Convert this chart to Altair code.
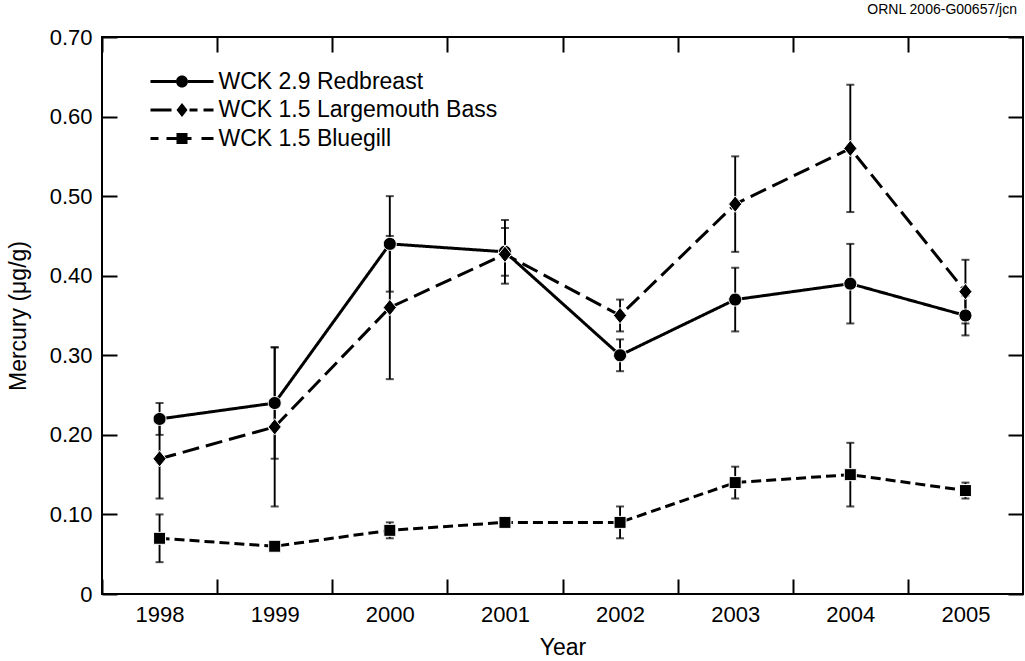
import altair as alt
import pandas as pd

# ---------------- data ----------------
years = [1998, 1999, 2000, 2001, 2002, 2003, 2004, 2005]
series_names = ["WCK 2.9 Redbreast", "WCK 1.5 Largemouth Bass", "WCK 1.5 Bluegill"]

redbreast = [0.22, 0.24, 0.44, 0.43, 0.30, 0.37, 0.39, 0.35]
redbreast_lo = [0.20, 0.17, 0.38, 0.40, 0.28, 0.33, 0.34, 0.325]
redbreast_hi = [0.24, 0.31, 0.50, 0.46, 0.32, 0.41, 0.44, 0.375]

bass = [0.17, 0.21, 0.36, 0.427, 0.35, 0.49, 0.56, 0.38]
bass_lo = [0.12, 0.11, 0.27, 0.39, 0.33, 0.43, 0.48, 0.34]
bass_hi = [0.22, 0.31, 0.45, 0.47, 0.37, 0.55, 0.64, 0.42]

bluegill = [0.07, 0.06, 0.08, 0.09, 0.09, 0.14, 0.15, 0.13]
bluegill_lo = [0.04, 0.055, 0.07, 0.086, 0.07, 0.12, 0.11, 0.12]
bluegill_hi = [0.10, 0.065, 0.09, 0.094, 0.11, 0.16, 0.19, 0.14]

y_ticks = [0.0, 0.1, 0.2, 0.3, 0.4, 0.5, 0.6, 0.7]
# x tick marks sit on the year boundaries; each label names the year to the right of its tick
x_boundaries = [1997.5, 1998.5, 1999.5, 2000.5, 2001.5, 2002.5, 2003.5, 2004.5]

rows = []
for name, vals, los, his in [
    (series_names[0], redbreast, redbreast_lo, redbreast_hi),
    (series_names[1], bass, bass_lo, bass_hi),
    (series_names[2], bluegill, bluegill_lo, bluegill_hi),
]:
    for yr, v, lo, hi in zip(years, vals, los, his):
        rows.append({"series": name, "year": yr, "value": v, "lo": lo, "hi": hi})
df = pd.DataFrame(rows)

# ---------------- styling ----------------
FONT = "Liberation Sans"
W, H = 921, 557
TICK = 15
dash_patterns = [[1, 0], [17, 7], [10, 5]]


# symbol paths; symbol size 256 -> 1 path unit = 8 px
def seg(x0, x1, u, h=1.5):
    a, b, c = x0 / u, x1 / u, h / u
    return f"M{a:.3f},{-c:.3f}L{b:.3f},{-c:.3f}L{b:.3f},{c:.3f}L{a:.3f},{c:.3f}Z"


def circ(r, u):
    r = r / u
    return f"M{r:.3f},0A{r:.3f},{r:.3f} 0 1 1 {-r:.3f},0A{r:.3f},{r:.3f} 0 1 1 {r:.3f},0Z"


def diam(hw, hh, u):
    a, b = hw / u, hh / u
    return f"M0,{-b:.3f}L{a:.3f},0L0,{b:.3f}L{-a:.3f},0Z"


def sq(h, u):
    a = h / u
    return f"M{-a:.3f},{-a:.3f}L{a:.3f},{-a:.3f}L{a:.3f},{a:.3f}L{-a:.3f},{a:.3f}Z"


U = 8.0
marker_shapes = [circ(6.5, U), diam(6.6, 8.2, U), sq(6.0, U)]
leg_red = " ".join([seg(-31.5, -6, U), circ(6, U), seg(6, 31.5, U)])
leg_bass = " ".join([seg(-31.5, -10.5, U), diam(5.5, 7, U), seg(7.5, 15.5, U), seg(21.5, 31.5, U)])
leg_blue = " ".join([seg(-31.5, -23.5, U), seg(-15.5, -5, U), sq(5.5, U), seg(5, 9.5, U),
                     seg(19.5, 31.5, U)])

xscale = alt.Scale(domain=[1997.5, 2005.5], nice=False, zero=False)
yscale = alt.Scale(domain=[0, 0.7], nice=False, zero=True)

# grid lines dashed so only a short piece shows at each end -> inward ticks on all four sides
axis_x = alt.Axis(
    values=x_boundaries, ticks=False, domain=False,
    labelExpr="format(datum.value + 0.5, 'd')", labelOffset=W / 16,
    labelFlush=False, labelOverlap=False, labelBound=False,
    labelFontSize=22, labelPadding=10, title="Year", titleFontSize=23,
    titleFontWeight="normal", titlePadding=11,
    grid=True, gridColor="black", gridWidth=2, gridOpacity=1,
    gridDash=[TICK, H - 2 * TICK, TICK],
)
axis_y = alt.Axis(
    values=y_ticks, ticks=False, domain=False,
    labelExpr="datum.value == 0 ? '0' : format(datum.value, '.2f')",
    labelFlush=False, labelOverlap=False,
    labelFontSize=22, labelPadding=10, title="Mercury (μg/g)",
    titleFontSize=23, titleFontWeight="normal", titlePadding=19,
    grid=True, gridColor="black", gridWidth=2, gridOpacity=1,
    gridDash=[TICK, W - 2 * TICK, TICK],
)

X = alt.X("year:Q", scale=xscale, axis=axis_x)

base = alt.Chart(df)

lines = base.mark_line(color="black", strokeWidth=3).encode(
    x=X,
    y=alt.Y("value:Q", scale=yscale, axis=axis_y),
    strokeDash=alt.StrokeDash("series:N", scale=alt.Scale(domain=series_names, range=dash_patterns),
                              legend=None),
    detail="series:N",
)

err_rules = base.mark_rule(color="black", strokeWidth=1.9).encode(
    x=X,
    y=alt.Y("lo:Q", scale=yscale, axis=axis_y),
    y2="hi:Q",
)

caps_lo = base.mark_tick(color="black", orient="horizontal", size=8, thickness=2).encode(
    x=X,
    y=alt.Y("lo:Q", scale=yscale, axis=axis_y),
)

caps_hi = base.mark_tick(color="black", orient="horizontal", size=8, thickness=2).encode(
    x=X,
    y=alt.Y("hi:Q", scale=yscale, axis=axis_y),
)

points = base.mark_point(filled=True, color="black", opacity=1, stroke="white", strokeWidth=1,
                         size=256).encode(
    x=X,
    y=alt.Y("value:Q", scale=yscale, axis=axis_y),
    shape=alt.Shape("series:N", scale=alt.Scale(domain=series_names, range=marker_shapes), legend=None),
)

legend_layer = base.transform_filter("false").mark_point(filled=True, color="black", opacity=1).encode(
    x=X,
    y=alt.Y("value:Q", scale=yscale, axis=axis_y),
    shape=alt.Shape(
        "series:N",
        scale=alt.Scale(domain=series_names, range=[leg_red, leg_bass, leg_blue]),
        legend=alt.Legend(
            title=None, orient="none", legendX=68.5, legendY=33, padding=0,
            symbolSize=256, symbolStrokeWidth=0, symbolFillColor="black",
            labelFont=FONT, labelFontSize=23, labelColor="black", labelOffset=25,
            labelLimit=500, rowPadding=4.5,
        ),
    ),
)

chart = alt.layer(
    lines, err_rules, caps_lo, caps_hi, points, legend_layer,
).resolve_scale(
    shape="independent"
).properties(
    width=W,
    height=H,
    background="white",
    autosize=alt.AutoSizeParams(type="none"),
    padding={"left": 102, "top": 37, "right": 2, "bottom": 67},
    title=alt.TitleParams("ORNL 2006-G00657/jcn", anchor="end", fontSize=14, fontWeight="normal",
                          font=FONT, color="black", offset=9, dx=-6, frame="group"),
).configure_view(
    stroke="black", strokeWidth=2
).configure_axis(
    labelFont=FONT, titleFont=FONT, labelColor="black", titleColor="black"
)

chart.save("out.html", embed_options={"renderer": "svg", "actions": False})
